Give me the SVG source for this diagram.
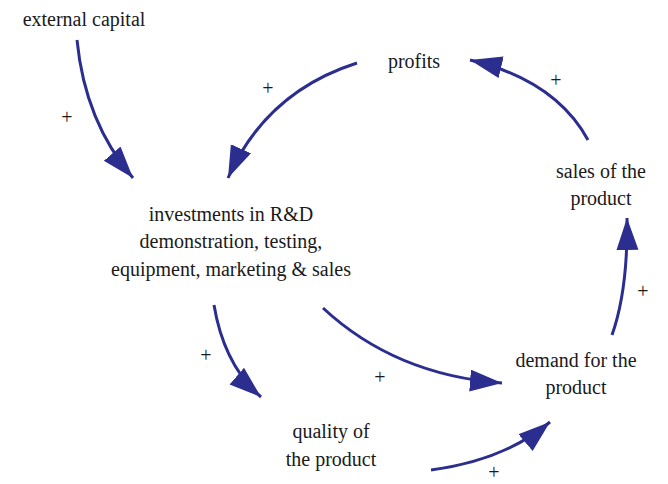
<svg xmlns="http://www.w3.org/2000/svg" width="668" height="484" viewBox="0 0 668 484">
<defs>
<style>
.t{font-family:'Liberation Serif','Times New Roman','DejaVu Serif',serif;font-size:20px;fill:#1a1a1a;text-anchor:middle}
.c{fill:none;stroke:#2b2d8f;stroke-width:3;marker-end:url(#ah)}
</style>
<marker id="ah" markerUnits="userSpaceOnUse" markerWidth="34" markerHeight="24" refX="32" refY="11" orient="auto" viewBox="0 0 34 24">
<path d="M0,0 L32,11 L0,22 z" fill="#2b2d8f"/>
</marker>
</defs>
<rect width="668" height="484" fill="#ffffff"/>
<g font-family="Liberation Serif, Times New Roman, serif" font-size="20" text-anchor="middle" fill="#1a1a1a">
<g id="external"><text class="t" x="84" y="26">external capital</text></g>
<g id="profits"><text class="t" x="414" y="68">profits</text></g>
<g id="sales"><text class="t" x="601" y="178">sales of the</text><text class="t" x="601" y="205">product</text></g>
<g id="investments"><text class="t" x="231" y="221">investments in R&amp;D</text><text class="t" x="231" y="248">demonstration, testing,</text><text class="t" x="231" y="276">equipment, marketing &amp; sales</text></g>
<g id="demand"><text class="t" x="576" y="367">demand for the</text><text class="t" x="576" y="394">product</text></g>
<g id="quality"><text class="t" x="331" y="438">quality of</text><text class="t" x="331" y="466">the product</text></g>
</g>
<g id="connectors">
<path class="c" d="M77,40 Q 85,122 133,178"/>
<path class="c" d="M357,63 Q 266,92 228,178"/>
<path class="c" d="M588,140 Q 555,80 470,60"/>
<path class="c" d="M612,335 Q 628,290 627,218"/>
<path class="c" d="M214,305 Q 224,365 261,397"/>
<path class="c" d="M323,308 Q 395,375 502,383"/>
<path class="c" d="M431,470 Q 505,460 550,422"/>
<text class="t" x="67" y="124">+</text>
<text class="t" x="268" y="95">+</text>
<text class="t" x="556" y="87">+</text>
<text class="t" x="643" y="298">+</text>
<text class="t" x="206" y="362">+</text>
<text class="t" x="380" y="384">+</text>
<text class="t" x="494" y="479">+</text>
</g>
</svg>
